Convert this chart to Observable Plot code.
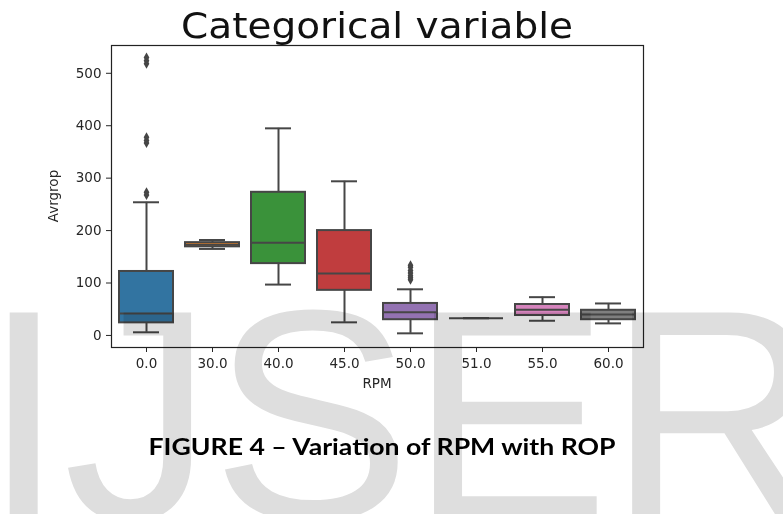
<!DOCTYPE html>
<html>
<head>
<meta charset="utf-8">
<script src="https://cdn.jsdelivr.net/npm/d3@7"></script>
<script src="https://cdn.jsdelivr.net/npm/@observablehq/plot@0.6"></script>
<style>
  html, body { margin: 0; padding: 0; background: #ffffff; }
  #wrap { position: relative; width: 783px; height: 514px; overflow: hidden; background: #ffffff; }
  #chart { position: absolute; left: 0; top: 0; }
  .overlay { position: absolute; left: 0; top: 0; pointer-events: none; }
  #watermark { mix-blend-mode: multiply; }
</style>
</head>
<body>
<div id="wrap">
  <div id="chart"></div>
  <svg class="overlay" width="783" height="514" xmlns="http://www.w3.org/2000/svg">
    <text id="title" x="377" y="38" text-anchor="middle" font-family="DejaVu Sans" font-size="36" fill="#111" textLength="392" lengthAdjust="spacingAndGlyphs">Categorical variable</text>
    <text id="ylabel" transform="translate(58,196) rotate(-90)" text-anchor="middle" font-family="DejaVu Sans" font-size="13.5" fill="#262626">Avrgrop</text>
    <text id="xlabel" x="377" y="388" text-anchor="middle" font-family="DejaVu Sans" font-size="13.5" fill="#262626">RPM</text>
    <text id="caption" x="382" y="455" text-anchor="middle" font-family="Lato, 'Open Sans', sans-serif" font-weight="bold" font-size="23.5" fill="#000" textLength="467" lengthAdjust="spacingAndGlyphs">FIGURE 4 – Variation of RPM with ROP</text>
  </svg>
  <svg id="watermark" class="overlay" width="783" height="514" xmlns="http://www.w3.org/2000/svg">
    <text x="-18" y="519" font-family="Liberation Sans, Arial, sans-serif" font-size="300" fill="#dedede" letter-spacing="-2">IJSER</text>
  </svg>
</div>
<script>
// ---- data ----
const rpm         = ["0.0", "30.0", "40.0", "45.0", "50.0", "51.0", "55.0", "60.0"];
const whiskerLow  = [6,   165,  97,  25,  4,  33, 28, 23];
const q1          = [24,  169, 137,  86, 30,  33, 38, 30];
const median      = [42,  173, 177, 118, 44,  33, 49, 40];
const q3          = [122, 177, 273, 200, 61,  33, 59, 48];
const whiskerHigh = [254, 182, 395, 294, 88,  33, 73, 61];
const boxColors   = ["#3274a1", "#e1812c", "#3a923a", "#c03d3e", "#9372b2", "#845b53", "#d684bd", "#7f7f7f"];

const outlierRPM   = ["0.0", "0.0", "0.0", "0.0", "0.0", "0.0", "0.0", "0.0",
                      "50.0", "50.0", "50.0", "50.0", "50.0", "50.0", "50.0"];
const outlierValue = [268, 273, 367, 372, 378, 518, 524, 530,
                      106, 110, 114, 119, 124, 130, 134];

const yTicks = [0, 100, 200, 300, 400, 500];

// ---- tables built from the arrays ----
const boxes = rpm.map((r, i) => ({
  rpm: r, lo: whiskerLow[i], q1: q1[i], med: median[i], q3: q3[i], hi: whiskerHigh[i]
}));
const outliers = outlierRPM.map((r, i) => ({rpm: r, value: outlierValue[i]}));

const edge = "#464646";

const chart = Plot.plot({
  width: 783,
  height: 514,
  marginTop: 45,
  marginRight: 140,
  marginBottom: 167,
  marginLeft: 111,
  style: {fontFamily: "DejaVu Sans", fontSize: "13.5px", color: "#262626", background: "transparent"},
  x: {type: "band", domain: rpm, paddingInner: 0.18, paddingOuter: 0.09, label: null, tickSize: 5, tickPadding: 6},
  y: {domain: [-23, 553], ticks: yTicks, tickFormat: d3.format("d"), label: null, tickSize: 5, tickPadding: 5},
  color: {domain: rpm, range: boxColors},
  marks: [
    Plot.ruleX(boxes, {x: "rpm", y1: "lo", y2: "hi", stroke: edge, strokeWidth: 2}),
    Plot.tickY(boxes, {x: "rpm", y: "lo", stroke: edge, strokeWidth: 2, insetLeft: 14, insetRight: 14}),
    Plot.tickY(boxes, {x: "rpm", y: "hi", stroke: edge, strokeWidth: 2, insetLeft: 14, insetRight: 14}),
    Plot.barY(boxes, {x: "rpm", y1: "q1", y2: "q3", fill: "rpm", stroke: edge, strokeWidth: 2}),
    Plot.tickY(boxes, {x: "rpm", y: "med", stroke: edge, strokeWidth: 2}),
    Plot.dot(outliers, {x: "rpm", y: "value", symbol: "diamond", r: 3, fill: edge, stroke: "none"}),
    Plot.frame({stroke: "#222", strokeWidth: 1.2})
  ]
});
document.getElementById("chart").appendChild(chart);
</script>
</body>
</html>
